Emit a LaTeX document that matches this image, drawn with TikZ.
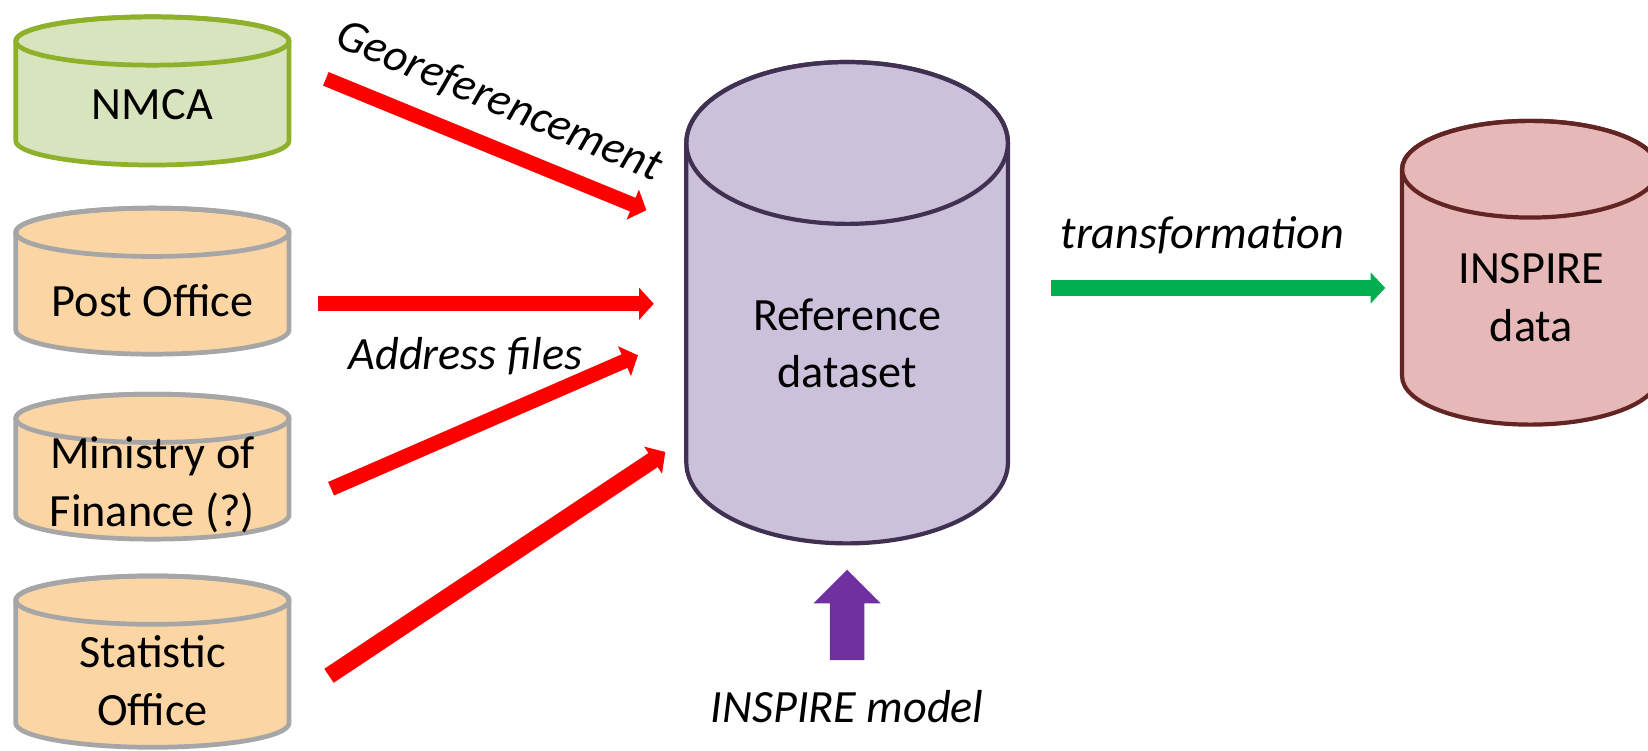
\documentclass[tikz,border=0pt]{standalone}
\usepackage{fontspec}
\setmainfont{Carlito}
\usetikzlibrary{arrows.meta}
\definecolor{redA}{HTML}{FF0000}
\definecolor{greenA}{HTML}{00B050}
\definecolor{purpA}{HTML}{7030A0}
\definecolor{nmcaFill}{HTML}{D7E4BD}
\definecolor{nmcaLine}{HTML}{8EB02B}
\definecolor{orFill}{HTML}{FCD5A5}
\definecolor{orLine}{HTML}{A6A6A6}
\definecolor{refFill}{HTML}{CCC1DA}
\definecolor{refLine}{HTML}{403152}
\definecolor{insFill}{HTML}{E6B9B8}
\definecolor{insLine}{HTML}{632523}
% #1 cx, #2 top, #3 bottom, #4 rx, #5 ry, #6 style
\newcommand{\dbcyl}[6]{%
  \path[#6] ({#1-#4},{#2+#5}) -- ({#1-#4},{#3-#5})
    arc[start angle=180,end angle=360,x radius=#4pt,y radius=#5pt]
    -- ({#1+#4},{#2+#5})
    arc[start angle=0,end angle=180,x radius=#4pt,y radius=#5pt] -- cycle;
  \path[#6,fill=none] (#1,{#2+#5}) ellipse[x radius=#4pt,y radius=#5pt];
}
\begin{document}
\begin{tikzpicture}[x=1pt,y=-1pt,
  lbl/.style={font=\fontsize{44}{55}\selectfont,align=center,inner sep=0pt},
  ilbl/.style={lbl,font=\fontsize{44}{55}\selectfont\itshape},
  nmcacyl/.style={fill=nmcaFill,draw=nmcaLine,line width=4.5pt},
  orcyl/.style={fill=orFill,draw=orLine,line width=4.5pt},
  refcyl/.style={fill=refFill,draw=refLine,line width=4pt},
  inscyl/.style={fill=insFill,draw=insLine,line width=4pt},
  redarrow/.style={draw=redA,line width=14pt,-{Triangle[length=14pt,width=30pt]}},
  greenarrow/.style={draw=greenA,line width=15pt,-{Triangle[length=14pt,width=29pt]}},
]
\useasboundingbox (0,0) rectangle (1568,714);

% cylinders
\dbcyl{145}{16}{157}{130}{23}{nmcacyl}
\dbcyl{145}{198}{337}{130}{23}{orcyl}
\dbcyl{145}{375}{513}{130}{23}{orcyl}
\dbcyl{145}{548}{711}{130}{23}{orcyl}
\dbcyl{806}{59}{517}{153}{77}{refcyl}
\dbcyl{1456}{115}{404}{122}{46}{inscyl}

% texts (multi-line nodes: base = last line's baseline)
\node[lbl,anchor=base] (nmca) at (145,114) {NMCA};
\node[lbl,anchor=base] (post) at (145,301) {Post Office};
\node[lbl,anchor=base] (mof) at (145,501) {Ministry of\\Finance (?)};
\node[lbl,anchor=base] (stat) at (145,690) {Statistic\\Office};
\node[lbl,anchor=base] (ref) at (806,369) {Reference\\dataset};
\node[lbl,anchor=base] (ins) at (1457,325) {INSPIRE\\data};

\node[ilbl,anchor=base] (lgeo) at (470,108) [rotate=-23] {Georeferencement};
\node[ilbl,anchor=base] (laddr) at (443,352) {Address files};
\node[ilbl,anchor=base] (ltrans) at (1144,236) {transformation};
\node[ilbl,anchor=base] (lmodel) at (806,687) {INSPIRE model};

% arrow end points
\coordinate (g1) at (310,75);   \coordinate (g2) at (615,200);
\coordinate (p1) at (303,289);  \coordinate (p2) at (622,289);
\coordinate (m1) at (315,465);  \coordinate (m2) at (607,338);
\coordinate (s1) at (313,643);  \coordinate (s2) at (633,430);
\coordinate (t1) at (1000,274); \coordinate (t2) at (1318,274);

\draw[redarrow] (g1) -- (g2);
\draw[redarrow] (p1) -- (p2);
\draw[redarrow] (m1) -- (m2);
\draw[redarrow,line width=16pt] (s1) -- (s2);
\draw[greenarrow] (t1) -- (t2);

% INSPIRE model block arrow
\fill[purpA] (789.5,628) -- (822.5,628) -- (822.5,574) -- (838,574) -- (806,542)
  -- (774,574) -- (789.5,574) -- cycle;
\end{tikzpicture}
\end{document}
